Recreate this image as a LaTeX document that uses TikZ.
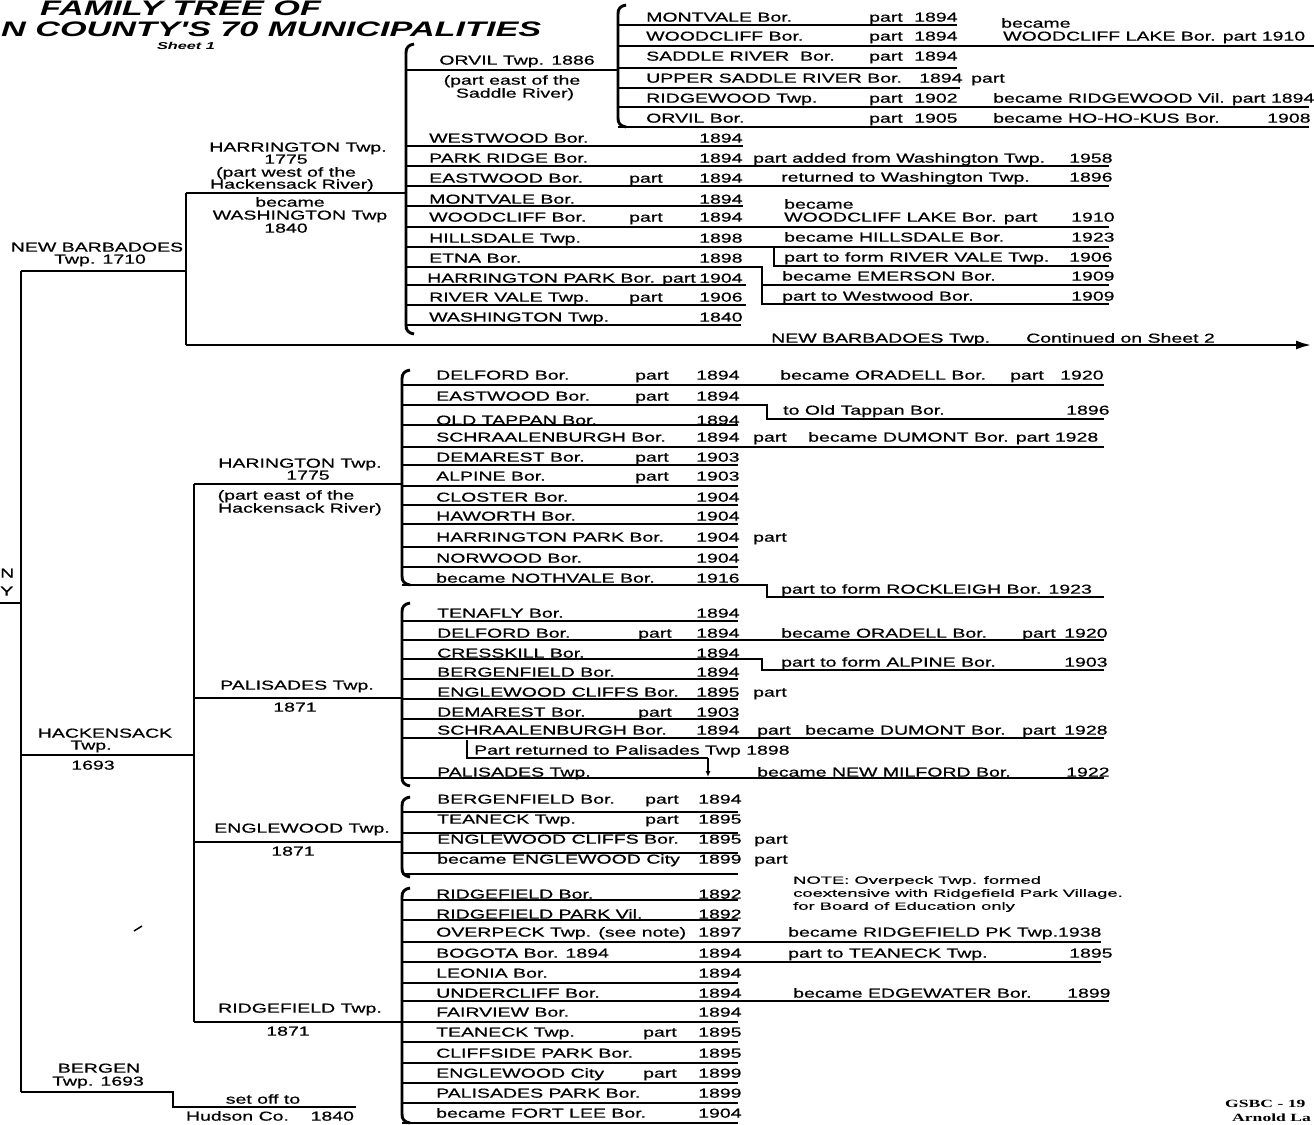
\documentclass[tikz,border=0pt]{standalone}
\usepackage{fontspec}
\usetikzlibrary{arrows.meta}
\newfontfamily\chartfont[FakeStretch=1.5,FakeBold=0.6]{Liberation Sans}
\newfontfamily\notefont[FakeStretch=1.75,FakeBold=0.4]{Liberation Sans}
\newfontfamily\titlefont[FakeStretch=1.63]{Liberation Sans}
\newfontfamily\stampfont[FakeStretch=1.6]{Liberation Serif}
% brace in front of a list: x, top, bottom
\newcommand{\listbrace}[3]{%
  \draw[brk] ({#1+8},#2) .. controls ({#1+2},{#2+1}) and (#1,{#2+4}) .. (#1,{#2+9})
    -- (#1,{#3-9}) .. controls (#1,{#3-4}) and ({#1+2},{#3-1}) .. ({#1+8},#3);}
\begin{document}
\begin{tikzpicture}[x=1pt,y=-1pt,
  tree/.style={line width=2.9pt},
  rule/.style={line width=2pt},
  brk/.style={line width=2.9pt},
  row/.style={anchor=west,inner sep=0pt,text height=9.3pt,text depth=0pt,font=\chartfont\fontsize{13}{13}\selectfont},
  lbl/.style={row,anchor=center},
  note/.style={anchor=west,inner sep=0pt,text height=7.5pt,text depth=0pt,font=\notefont\fontsize{10.5}{10.5}\selectfont}]
\useasboundingbox (0,0) rectangle (1314,1124);
\fill[white] (0,0) rectangle (1314,1124);
\clip (0,0) rectangle (1314,1124);

% title
\node[anchor=base west,inner sep=0pt,font=\titlefont\bfseries\itshape\fontsize{21}{21}\selectfont] (ttl1) at (40,16) {FAMILY TREE OF};
\node[anchor=base west,inner sep=0pt,font=\titlefont\bfseries\itshape\fontsize{21}{21}\selectfont] (ttl2) at (1,37) {N COUNTY'S 70 MUNICIPALITIES};
\node[anchor=base,inner sep=0pt,font=\titlefont\bfseries\itshape\fontsize{10}{10}\selectfont] (sheet) at (186,50) {Sheet 1};

% main tree
\coordinate (root) at (0,603);
\coordinate (tk) at (21,603);
\coordinate (tnb) at (21,271);
\coordinate (thk) at (21,755);
\coordinate (tbg) at (21,1092);
\coordinate (nbj) at (186,271);
\coordinate (hwt) at (186,193);
\coordinate (hwb) at (186,345);
\coordinate (hkj) at (194,755);
\coordinate (hkt) at (194,484);
\coordinate (hkb) at (194,1022);
\draw[tree] (root) -- (tk);
\draw[tree] (tnb) -- (tbg);
\draw[tree] (tnb) -- (nbj);
\draw[tree] (hwt) -- (hwb);
\draw[tree] (hwt) -- (406,193);
\draw[tree,-{Latex[length=16pt,width=9pt]}] (hwb) -- (1312,345);
\draw[tree] (thk) -- (hkj);
\draw[tree] (hkt) -- (hkb);
\draw[tree] (hkt) -- (402,484);
\draw[tree] (194,698) -- (402,698);
\draw[tree] (194,842) -- (402,842);
\draw[tree] (hkb) -- (402,1022);
\draw[tree] (tbg) -- (173,1092) -- (173,1107) -- (356,1107);
\draw[tree] (406,70) -- (618,70);
\draw[line width=1.5pt] (134,931) -- (142,926);

% braces
\listbrace{406}{44}{334}
\listbrace{618}{5}{127}
\listbrace{402}{370}{585}
\listbrace{402}{603}{786}
\listbrace{402}{797}{877}
\listbrace{402}{888}{1123}

% left labels
\node[row] (bc1) at (0,573) {N};
\node[row] (bc2) at (0,591) {Y};
\node[lbl] (nb1) at (97,247) {NEW BARBADOES};
\node[lbl] (nb2) at (100,259) {Twp. 1710};
\node[lbl] (hw1) at (298,147) {HARRINGTON Twp.};
\node[lbl] (hw2) at (286,159) {1775};
\node[lbl] (hw3) at (286,172) {(part west of the};
\node[lbl] (hw4) at (292,184) {Hackensack River)};
\node[lbl] (hw5) at (290,202) {became};
\node[lbl] (hw6) at (300,215) {WASHINGTON Twp};
\node[lbl] (hw7) at (286,228) {1840};
\node[lbl] (he1) at (300,463) {HARINGTON Twp.};
\node[lbl] (he2) at (308,475) {1775};
\node[lbl] (he3) at (286,495) {(part east of the};
\node[lbl] (he4) at (300,508) {Hackensack River)};
\node[lbl] (pa1) at (297,685) {PALISADES Twp.};
\node[lbl] (pa2) at (295,707) {1871};
\node[lbl] (hk1) at (105,733) {HACKENSACK};
\node[lbl] (hk2) at (91,745) {Twp.};
\node[lbl] (hk3) at (93,765) {1693};
\node[lbl] (en1) at (302,828) {ENGLEWOOD Twp.};
\node[lbl] (en2) at (293,851) {1871};
\node[lbl] (rf1) at (300,1008) {RIDGEFIELD Twp.};
\node[lbl] (rf2) at (288,1031) {1871};
\node[lbl] (bg1) at (99,1068) {BERGEN};
\node[lbl] (bg2) at (98,1081) {Twp. 1693};
\node[lbl] (so1) at (263,1099) {set off to};
\node[lbl] (so2) at (270,1116) {Hudson Co.~~~~1840};
\node[lbl] (ov1) at (517,60) {ORVIL Twp. 1886};
\node[lbl] (ov2) at (512,80) {(part east of the};
\node[lbl] (ov3) at (515,93) {Saddle River)};

% Orvil Twp. list
\foreach \c/\n/\p/\yr [count=\i] in {17/{MONTVALE Bor.}/part/1894, 36/{WOODCLIFF Bor.}/part/1894, 56/{SADDLE RIVER~~Bor.}/part/1894, 98/{RIDGEWOOD Twp.}/part/1902, 118/{ORVIL Bor.}/part/1905}
  {\node[row] (on\i) at (646,\c) {\n}; \node[row] (op\i) at (869,\c) {\p}; \node[row] (oy\i) at (914,\c) {\yr};}
\node[row] (on6) at (646,78) {UPPER SADDLE RIVER Bor.};
\node[row] (oy6) at (919,78) {1894};
\node[row] (op6) at (971,78) {part};
\foreach \y/\e in {25/957,46/1314,68/957,88/960,107/1309,127/1309}
  \draw[rule] (618,\y) -- (\e,\y);
\node[row] (ox1) at (1001,23) {became};
\node[row] (ox2) at (1003,36) {WOODCLIFF LAKE Bor. part 1910};
\node[row] (ox3) at (993,98) {became RIDGEWOOD Vil. part 1894};
\node[row] (ox4) at (993,118) {became HO-HO-KUS Bor.};
\node[row] (ox5) at (1267,118) {1908};

% Harrington Twp. (west) list
\foreach \c/\n/\p/\yr [count=\i] in {138/{WESTWOOD Bor.}/{}/1894, 158/{PARK RIDGE Bor.}/{}/1894, 178/{EASTWOOD Bor.}/part/1894, 199/{MONTVALE Bor.}/{}/1894, 217/{WOODCLIFF Bor.}/part/1894, 238/{HILLSDALE Twp.}/{}/1898, 258/{ETNA Bor.}/{}/1898, 297/{RIVER VALE Twp.}/part/1906, 317/{WASHINGTON Twp.}/{}/1840}
  {\node[row] (wn\i) at (429,\c) {\n}; \node[row] (wp\i) at (629,\c) {\p}; \node[row] (wy\i) at (699,\c) {\yr};}
\node[row] (wn10) at (427,278) {HARRINGTON PARK Bor.};
\node[row] (wp10) at (662,278) {part};
\node[row] (wy10) at (699,278) {1904};
\foreach \y/\e in {146/743,166/1109,186/1109,206/743,227/1109,247/1109,285/746,305/746,325/741}
  \draw[rule] (406,\y) -- (\e,\y);
\draw[rule] (406,267) -- (762,267) -- (762,304) -- (1109,304);
\draw[rule] (762,285) -- (1109,285);
\draw[rule] (774,247) -- (774,266) -- (1109,266);
\node[row] (wx1) at (753,158) {part added from Washington Twp.};
\node[row] (wz1) at (1069,158) {1958};
\node[row] (wx2) at (781,177) {returned to Washington Twp.};
\node[row] (wz2) at (1069,177) {1896};
\node[row] (wx3) at (784,204) {became};
\node[row] (wx4) at (784,217) {WOODCLIFF LAKE Bor. part};
\node[row] (wz4) at (1071,217) {1910};
\node[row] (wx5) at (784,237) {became HILLSDALE Bor.};
\node[row] (wz5) at (1071,237) {1923};
\node[row] (wx6) at (784,257) {part to form RIVER VALE Twp.};
\node[row] (wz6) at (1069,257) {1906};
\node[row] (wx7) at (782,276) {became EMERSON Bor.};
\node[row] (wz7) at (1071,276) {1909};
\node[row] (wx8) at (782,296) {part to Westwood Bor.};
\node[row] (wz8) at (1071,296) {1909};
\node[row] (cont1) at (771,338) {NEW BARBADOES Twp.};
\node[row] (cont2) at (1026,338) {Continued on Sheet 2};

% Harington Twp. (east) list
\foreach \c/\n/\p/\yr [count=\i] in {375/{DELFORD Bor.}/part/1894, 396/{EASTWOOD Bor.}/part/1894, 420/{OLD TAPPAN Bor.}/{}/1894, 437/{SCHRAALENBURGH Bor.}/{}/1894, 457/{DEMAREST Bor.}/part/1903, 476/{ALPINE Bor.}/part/1903, 497/{CLOSTER Bor.}/{}/1904, 516/{HAWORTH Bor.}/{}/1904, 537/{HARRINGTON PARK Bor.}/{}/1904, 558/{NORWOOD Bor.}/{}/1904, 578/{became NOTHVALE Bor.}/{}/1916}
  {\node[row] (hn\i) at (436,\c) {\n}; \node[row] (hp\i) at (635,\c) {\p}; \node[row] (hy\i) at (696,\c) {\yr};}
\foreach \y/\e in {385/1104,425/738,447/1104,465/738,486/738,505/738,524/738,547/738,567/738}
  \draw[rule] (402,\y) -- (\e,\y);
\draw[rule] (402,405) -- (767,405) -- (767,419) -- (1104,419);
\draw[rule] (402,585) -- (767,585) -- (767,597) -- (1104,597);
\node[row] (hx1) at (753,437) {part};
\node[row] (hx2) at (753,537) {part};
\node[row] (hx3) at (780,375) {became ORADELL Bor.};
\node[row] (hx4) at (1010,375) {part};
\node[row] (hz4) at (1060,375) {1920};
\node[row] (hx5) at (783,410) {to Old Tappan Bor.};
\node[row] (hz5) at (1066,410) {1896};
\node[row] (hx6) at (808,437) {became DUMONT Bor. part 1928};
\node[row] (hx7) at (781,589) {part to form ROCKLEIGH Bor. 1923};

% Palisades Twp. list
\foreach \c/\n/\p/\yr [count=\i] in {613/{TENAFLY Bor.}/{}/1894, 633/{DELFORD Bor.}/part/1894, 653/{CRESSKILL Bor.}/{}/1894, 672/{BERGENFIELD Bor.}/{}/1894, 692/{ENGLEWOOD CLIFFS Bor.}/{}/1895, 712/{DEMAREST Bor.}/part/1903, 730/{SCHRAALENBURGH Bor.}/{}/1894, 772/{PALISADES Twp.}/{}/{}}
  {\node[row] (pn\i) at (437,\c) {\n}; \node[row] (pp\i) at (638,\c) {\p}; \node[row] (py\i) at (696,\c) {\yr};}
\foreach \y/\e in {621/738,640/1104,679/738,699/738,719/738,738/1104,778/1104}
  \draw[rule] (402,\y) -- (\e,\y);
\draw[rule] (402,659) -- (762,659) -- (762,670) -- (1104,670);
\draw[rule] (467,740) -- (467,758) -- (708,758);
\draw[rule,-{Latex[length=6pt,width=5pt]}] (708,758) -- (708,777);
\node[row] (px1) at (781,633) {became ORADELL Bor.};
\node[row] (px2) at (1022,633) {part};
\node[row] (pz2) at (1064,633) {1920};
\node[row] (px3) at (781,662) {part to form ALPINE Bor.};
\node[row] (pz3) at (1064,662) {1903};
\node[row] (px4) at (753,692) {part};
\node[row] (px5) at (757,730) {part};
\node[row] (px6) at (805,730) {became DUMONT Bor.};
\node[row] (px7) at (1022,730) {part};
\node[row] (pz7) at (1064,730) {1928};
\node[row] (px8) at (474,750) {Part returned to Palisades Twp 1898};
\node[row] (px9) at (757,772) {became NEW MILFORD Bor.};
\node[row] (pz9) at (1066,772) {1922};

% Englewood Twp. list
\foreach \c/\n/\p/\yr [count=\i] in {799/{BERGENFIELD Bor.}/part/1894, 819/{TEANECK Twp.}/part/1895, 839/{ENGLEWOOD CLIFFS Bor.}/{}/1895, 859/{became ENGLEWOOD City}/{}/1899}
  {\node[row] (en\i) at (437,\c) {\n}; \node[row] (ep\i) at (645,\c) {\p}; \node[row] (ey\i) at (698,\c) {\yr};}
\foreach \y in {812,833,853,874}
  \draw[rule] (402,\y) -- (738,\y);
\node[row] (ex1) at (754,839) {part};
\node[row] (ex2) at (754,859) {part};
\node[note] (nt1) at (793,880) {NOTE: Overpeck Twp. formed};
\node[note] (nt2) at (793,893) {coextensive with Ridgefield Park Village.};
\node[note] (nt3) at (793,906) {for Board of Education only};

% Ridgefield Twp. list
\foreach \c/\n/\p/\yr [count=\i] in {894/{RIDGEFIELD Bor.}/{}/1892, 914/{RIDGEFIELD PARK Vil.}/{}/1892, 932/{OVERPECK Twp. (see note)}/{}/1897, 953/{BOGOTA Bor. 1894}/{}/1894, 973/{LEONIA Bor.}/{}/1894, 993/{UNDERCLIFF Bor.}/{}/1894, 1012/{FAIRVIEW Bor.}/{}/1894, 1032/{TEANECK Twp.}/part/1895, 1053/{CLIFFSIDE PARK Bor.}/{}/1895, 1073/{ENGLEWOOD City}/part/1899, 1093/{PALISADES PARK Bor.}/{}/1899, 1113/{became FORT LEE Bor.}/{}/1904}
  {\node[row] (rn\i) at (436,\c) {\n}; \node[row] (rp\i) at (643,\c) {\p}; \node[row] (ry\i) at (698,\c) {\yr};}
\foreach \y/\e in {900/738,920/738,942/1101,962/1101,983/738,1001/1109,1022/738,1042/738,1063/738,1083/738,1103/738,1123/738}
  \draw[rule] (402,\y) -- (\e,\y);
\node[row] (rx1) at (788,932) {became RIDGEFIELD PK Twp.1938};
\node[row] (rx2) at (788,953) {part to TEANECK Twp.};
\node[row] (rz2) at (1069,953) {1895};
\node[row] (rx3) at (793,993) {became EDGEWATER Bor.};
\node[row] (rz3) at (1067,993) {1899};

% stamp
\node[anchor=base west,inner sep=0pt,font=\stampfont\bfseries\fontsize{11}{11}\selectfont] (st1) at (1225,1107) {GSBC - 19};
\node[anchor=base west,inner sep=0pt,font=\stampfont\bfseries\fontsize{11}{11}\selectfont] (st2) at (1232,1121) {Arnold La};
\end{tikzpicture}
\end{document}
